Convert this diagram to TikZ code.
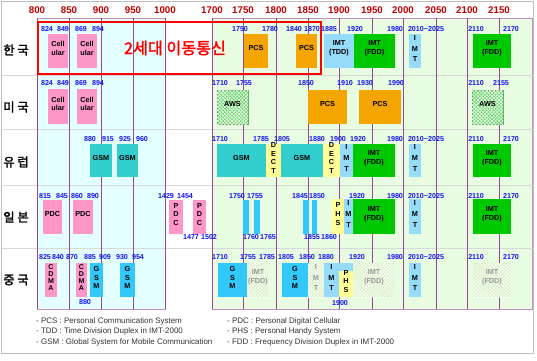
\documentclass[tikz,border=0pt]{standalone}
\usepackage{fontspec}
\setmainfont{Liberation Sans}
\newfontfamily\kr[AutoFakeBold=2]{Noto Sans CJK KR}
\usetikzlibrary{fit, patterns}
\definecolor{axisred}{RGB}{190,0,0}
\definecolor{numblue}{RGB}{20,20,240}
\definecolor{linepurple}{RGB}{150,70,150}
\definecolor{bandcyan}{RGB}{228,255,255}
\definecolor{bandgreen}{RGB}{232,252,225}
\definecolor{cellpink}{RGB}{255,150,200}
\definecolor{pcsorange}{RGB}{245,165,0}
\definecolor{tddblue}{RGB}{150,220,250}
\definecolor{fddgreen}{RGB}{0,200,0}
\definecolor{gsmteal}{RGB}{50,205,205}
\definecolor{gsmcyan}{RGB}{50,200,250}
\definecolor{dectyellow}{RGB}{255,255,150}
\definecolor{awsgreen}{RGB}{110,215,110}
\definecolor{palegreen}{RGB}{215,240,195}

\begin{document}
\begin{tikzpicture}[x=0.03cm, y=-0.03cm,
box/.style={inner sep=0pt, align=center, font=\fontsize{6.2}{7.5}\selectfont\bfseries},
vtall/.style={font=\fontsize{6.2}{9.2}\selectfont\bfseries},
vtight/.style={font=\fontsize{6}{6.2}\selectfont\bfseries},
cell/.style={box, fill=cellpink},
pcs/.style={box, fill=pcsorange},
tdd/.style={box, fill=tddblue},
fdd/.style={box, fill=fddgreen},
gsm/.style={box, fill=gsmteal},
gsmc/.style={box, fill=gsmcyan},
dect/.style={box, fill=dectyellow},
hatched/.style={postaction={pattern=north east lines, pattern color=white},
                postaction={pattern=north west lines, pattern color=white}},
aws/.style={box, fill=awsgreen, draw=awsgreen!80!black, line width=0.4pt, hatched},
pale/.style={box, fill=palegreen, hatched, text=black!40},
num/.style={font=\fontsize{6.1}{7}\selectfont\bfseries, text=numblue, inner sep=0pt},
axis/.style={font=\fontsize{8.3}{9}\selectfont\bfseries, text=axisred, inner sep=0pt},
country/.style={font=\kr\fontsize{10.5}{12}\selectfont\bfseries, inner sep=0pt},
legend/.style={font=\fontsize{6.8}{8}\selectfont, text=black!80, anchor=west, inner sep=0pt},
vline/.style={linepurple, line width=0.6pt},
rowline/.style={black!15, line width=0.5pt}]

\useasboundingbox (0,0) rectangle (537,360);
\draw[black!25] (1,1) rectangle (533,353);

\filldraw[fill=bandcyan, draw=linepurple!60] (37,18) rectangle (165,309);
\filldraw[fill=bandgreen, draw=linepurple!60] (212,18) rectangle (532,309);
\foreach \y in {75,129,185,248}
  \draw[rowline] (1,\y) -- (533,\y);

\foreach \f/\x in {800/37, 850/69, 900/101, 950/133, 1000/165,
                   1700/212, 1750/243, 1800/276, 1850/308, 1900/339,
                   1950/372, 2000/403, 2050/436, 2100/467, 2150/499} {
  \draw[vline] (\x,18) -- (\x,309);
  \node[axis] (ax\f) at (\x,10) {\f};
}

\draw[red, line width=1.1pt] (38,22) rectangle (321,74);
\node[text=red, font=\kr\fontsize{13.8}{15}\selectfont\bfseries] (gen2) at (175,48) {2세대 이동통신};

% Korea
\node[cell, fit={(48,34) (68,68)}] (krcellA) {Cell\\ular};
\node[cell, fit={(77,34) (97,68)}] (krcellB) {Cell\\ular};
\node[pcs, fit={(244,34) (268,68)}] (krpcsA) {PCS};
\node[pcs, fit={(296,34) (317,68)}] (krpcsB) {PCS};
\node[tdd, fit={(324,34) (354,68)}] (krtdd) {IMT\\(TDD)};
\node[fdd, fit={(354,34) (395,68)}] (krfddA) {IMT\\(FDD)};
\node[tdd, vtall, fit={(409,34) (421,68)}] (krimt) {I\\M\\T};
\node[fdd, fit={(473,34) (511,68)}] (krfddB) {IMT\\(FDD)};

% USA
\node[cell, fit={(48,89) (68,124)}] (uscellA) {Cell\\ular};
\node[cell, fit={(77,89) (97,124)}] (uscellB) {Cell\\ular};
\node[aws, fit={(217,90) (248,124)}] (usawsA) {AWS};
\node[pcs, fit={(308,90) (347,124)}] (uspcsA) {PCS};
\node[pcs, fit={(359,90) (401,124)}] (uspcsB) {PCS};
\node[aws, fit={(472,90) (503,124)}] (usawsB) {AWS};

% Europe
\node[gsm, fit={(90,144) (112,177)}] (eugsmA) {GSM};
\node[gsm, fit={(117,144) (138,177)}] (eugsmB) {GSM};
\node[gsm, fit={(217,144) (266,177)}] (eugsmC) {GSM};
\node[dect, fit={(266,144) (281,177)}] (eudectA) {D\\E\\C\\T};
\node[gsm, fit={(281,144) (323,177)}] (eugsmD) {GSM};
\node[dect, fit={(323,144) (340,177)}] (eudectB) {D\\E\\C\\T};
\node[tdd, vtall, fit={(340,144) (353,177)}] (euimtA) {I\\M\\T};
\node[fdd, fit={(353,144) (395,177)}] (eufddA) {IMT\\(FDD)};
\node[tdd, vtall, fit={(409,144) (421,177)}] (euimtB) {I\\M\\T};
\node[fdd, fit={(473,144) (511,177)}] (eufddB) {IMT\\(FDD)};

% Japan
\node[cell, fit={(43,200) (62,234)}] (jppdcA) {PDC};
\node[cell, fit={(73,200) (93,234)}] (jppdcB) {PDC};
\node[cell, fit={(169,200) (183,234)}] (jppdcC) {P\\D\\C};
\node[cell, fit={(193,200) (206,234)}] (jppdcD) {P\\D\\C};
\node[gsmc, fit={(243,200) (249,234)}] (jpbarA) {};
\node[gsmc, fit={(254,200) (260,234)}] (jpbarB) {};
\node[gsmc, fit={(303,200) (309,234)}] (jpbarC) {};
\node[gsmc, fit={(312,200) (317,234)}] (jpbarD) {};
\node[dect, fit={(332,199) (344,234)}] (jpphs) {P\\H\\S};
\node[tdd, vtall, fit={(344,199) (353,234)}] (jpimtA) {I\\M\\T};
\node[fdd, fit={(353,199) (395,234)}] (jpfddA) {IMT\\(FDD)};
\node[tdd, vtall, fit={(409,199) (421,234)}] (jpimtB) {I\\M\\T};
\node[fdd, fit={(473,199) (511,234)}] (jpfddB) {IMT\\(FDD)};

% China
\node[cell, vtight, fit={(45,263) (57,297)}] (cncdmaA) {C\\D\\M\\A};
\node[cell, vtight, fit={(76,263) (87,297)}] (cncdmaB) {C\\D\\M\\A};
\node[gsmc, fit={(90,263) (103,297)}] (cngsmA) {G\\S\\M};
\node[gsmc, fit={(120,263) (135,297)}] (cngsmB) {G\\S\\M};
\node[gsmc, fit={(218,263) (247,297)}] (cngsmC) {G\\S\\M};
\node[pale, fit={(247,263) (269,297)}] (cnfddA) {IMT\\(FDD)};
\node[gsmc, fit={(282,263) (308,297)}] (cngsmD) {G\\S\\M};
\node[pale, vtall, fit={(308,263) (324,297)}] (cnimtA) {I\\M\\T};
\node[tdd, fit={(339,263) (353,271)}] (cnstrip) {};
\node[tdd, vtall, fit={(324,263) (339,297)}] (cnimtB) {I\\M\\T};
\node[dect, fit={(339,271) (353,297)}] (cnphs) {P\\H\\S};
\node[pale, fit={(353,263) (395,297)}] (cnfddB) {IMT\\(FDD)};
\node[tdd, vtall, fit={(409,263) (421,297)}] (cnimtC) {I\\M\\T};
\node[pale, fit={(473,263) (511,297)}] (cnfddC) {IMT\\(FDD)};

% band edges
\foreach \x/\f in {47/824, 63/849, 81/869, 98/894} {
  \node[num] (kr\f) at (\x,29) {\f};
  \node[num] (us\f) at (\x,83) {\f};
}
\foreach \x/\f in {240/1750, 270/1780, 294/1840, 312/1870, 329/1885} {
  \node[num] (kr\f) at (\x,29) {\f};
}
\foreach \x/\f in {220/1710, 244/1755, 306/1850, 345/1910, 365/1930, 396/1990, 476/2110, 501/2155} {
  \node[num] (us\f) at (\x,83) {\f};
}
\foreach \x/\f in {90/880, 108/915, 125/925, 142/960, 220/1710, 261/1785, 282/1805, 317/1880, 338/1900} {
  \node[num] (eu\f) at (\x,139) {\f};
}
\foreach \x/\f in {45/815, 62/845, 77/860, 93/890, 166/1429, 185/1454, 237/1750, 255/1755, 300/1845, 317/1850} {
  \node[num] (jp\f) at (\x,196) {\f};
}
\foreach \x/\f in {191/1477, 209/1502, 251/1760, 268/1765, 312/1855, 329/1860} {
  \node[num] (jp\f) at (\x,237) {\f};
}
\foreach \x/\f in {45/825, 58/840, 72/870, 90/885, 105/909, 122/930, 138/954,
                   220/1710, 248/1755, 267/1785, 286/1805, 307/1850, 326/1880} {
  \node[num] (cn\f) at (\x,257) {\f};
}
\node[num] (cn880) at (85,302) {880};
\node[num] (cn1900) at (340,303) {1900};
\foreach \c/\y in {kr/29, eu/139, jp/196, cn/257} {
  \node[num] (\c1980) at (395,\y) {1980};
  \node[num] (\c2010) at (426,\y) {2010\textasciitilde2025};
  \node[num] (\c2110) at (476,\y) {2110};
  \node[num] (\c2170) at (511,\y) {2170};
}
\node[num] (kr1920) at (355,29) {1920};
\node[num] (eu1920) at (358,139) {1920};
\node[num] (jp1920) at (357,196) {1920};
\node[num] (cn1920) at (357,257) {1920};

\node[country] (korea) at (16,50) {한 국};
\node[country] (usa) at (16,107) {미 국};
\node[country] (europe) at (16,162) {유 럽};
\node[country] (japan) at (16,217) {일 본};
\node[country] (china) at (16,280) {중 국};

\node[legend] (lgpcs) at (36,321) {- PCS : Personal Communication System};
\node[legend] (lgtdd) at (36,331) {- TDD : Time Division Duplex in IMT-2000};
\node[legend] (lggsm) at (36,342) {- GSM : Global System for Mobile Communication};
\node[legend] (lgpdc) at (227,321) {- PDC : Personal Digital Cellular};
\node[legend] (lgphs) at (227,331) {- PHS : Personal Handy System};
\node[legend] (lgfdd) at (227,342) {- FDD : Frequency Division Duplex in IMT-2000};

\end{tikzpicture}
\end{document}
